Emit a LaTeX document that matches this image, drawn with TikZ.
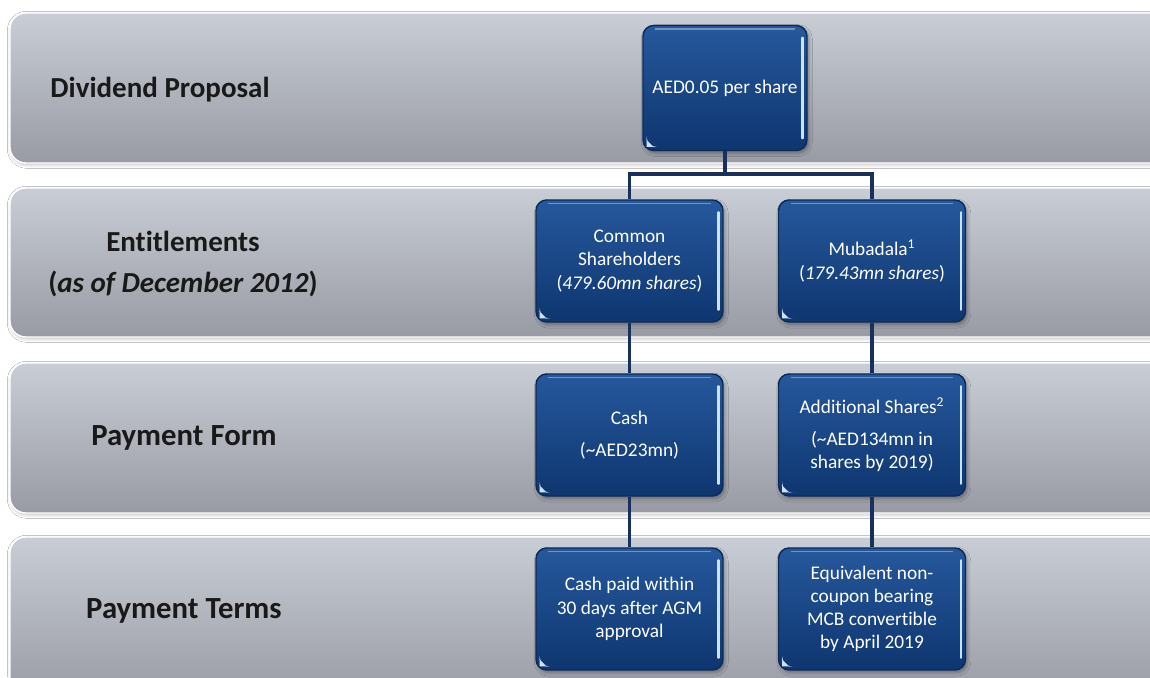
\documentclass[tikz,border=0pt]{standalone}
\usepackage{fontspec}
\setmainfont{Carlito}[Ligatures=NoCommon]
\usepackage{tikz}
\usetikzlibrary{positioning, shadows.blur}
\definecolor{bandtop}{RGB}{201,205,214}
\definecolor{bandbot}{RGB}{152,155,164}
\definecolor{boxtop}{RGB}{38,88,156}
\definecolor{boxbot}{RGB}{14,54,112}
\definecolor{boxedge}{RGB}{12,42,88}
\definecolor{linkcol}{RGB}{24,48,92}
\definecolor{glint}{RGB}{205,225,250}
\tikzset{
  band/.style={rounded corners=9pt, top color=bandtop, bottom color=bandbot, draw=white, line width=0.8pt,
    blur shadow={shadow xshift=0.5pt, shadow yshift=-1pt, shadow blur radius=2pt, shadow opacity=25}},
  rowlabel/.style={font=\fontsize{16.5}{23.5}\selectfont\bfseries, text=black!90, align=center},
  bluebox/.style={draw=boxedge, line width=0.8pt, rounded corners=6pt, top color=boxtop, bottom color=boxbot,
    text=white, align=center, font=\fontsize{11}{13.2}\selectfont, inner sep=2pt,
    minimum width=3.74cm, minimum height=2.44cm,
    blur shadow={shadow xshift=1pt, shadow yshift=-1.5pt, shadow blur radius=2pt, shadow opacity=35},
    path picture={
      \draw[glint, line width=1.4pt, line cap=round]
        ([xshift=-2.5pt,yshift=-7pt]path picture bounding box.north east) --
        ([xshift=-2.5pt,yshift=7pt]path picture bounding box.south east);
      \draw[glint, opacity=0.45, line width=1pt]
        ([xshift=7pt,yshift=-2pt]path picture bounding box.north west) --
        ([xshift=-7pt,yshift=-2pt]path picture bounding box.north east);
      \fill[glint] ([xshift=2pt,yshift=2pt]path picture bounding box.south west) -- ++(4pt,0pt) -- ++(-4pt,4pt) -- cycle;
    }},
  link/.style={draw=linkcol, line width=2pt}
}

\begin{document}
\begin{tikzpicture}[x=0.02cm, y=-0.02cm]
\useasboundingbox (0,0) rectangle (1150,677);
\clip (0,0) rectangle (1150,677);
\fill[white] (0,0) rectangle (1150,677);
% grey rows
\foreach \ya/\yb in {13/163, 188/337, 363/513, 537/700}
  \path[band] (10,\ya) rectangle (1175,\yb);

\node[rowlabel, anchor=base] (lbldiv) at (160,97) {Dividend Proposal};
\node[rowlabel] (lblent) at (183,264) {Entitlements\\(\textit{as of December 2012})};
\node[rowlabel, anchor=base, font=\fontsize{17.5}{23.5}\selectfont\bfseries] (lblform) at (184,445) {Payment Form};
\node[rowlabel, anchor=base, font=\fontsize{17.5}{23.5}\selectfont\bfseries] (lblterms) at (184,618) {Payment Terms};

% boxes
\node[bluebox, minimum width=3.28cm, minimum height=2.5cm] (propbox) at (725,88) {AED0.05 per share};
\node[bluebox] (commonbox) at (629.5,261) {Common\\Shareholders\\(\textit{479.60mn shares})};
\node[bluebox] (mubadalabox) at (872,261) {Mubadala\textsuperscript{1}\\(\textit{179.43mn shares})};
\node[bluebox] (cashbox) at (629.5,435) {Cash\\[5pt](\textasciitilde AED23mn)};
\node[bluebox] (sharesbox) at (872,435) {Additional Shares\textsuperscript{2}\\[5pt](\textasciitilde AED134mn in\\shares by 2019)};
\node[bluebox] (cashterms) at (629.5,609) {Cash paid within\\30 days after AGM\\approval};
\node[bluebox] (mcbterms) at (872,609) {Equivalent non-\\coupon bearing\\MCB convertible\\by April 2019};

% links
\coordinate (split) at (725,174);
\draw[link] (propbox.south) -- (split) -| (commonbox.north);
\draw[link] (split) -| (mubadalabox.north);
\draw[link] (commonbox.south) -- (cashbox.north);
\draw[link] (mubadalabox.south) -- (sharesbox.north);
\draw[link] (cashbox.south) -- (cashterms.north);
\draw[link] (sharesbox.south) -- (mcbterms.north);
\end{tikzpicture}
\end{document}
